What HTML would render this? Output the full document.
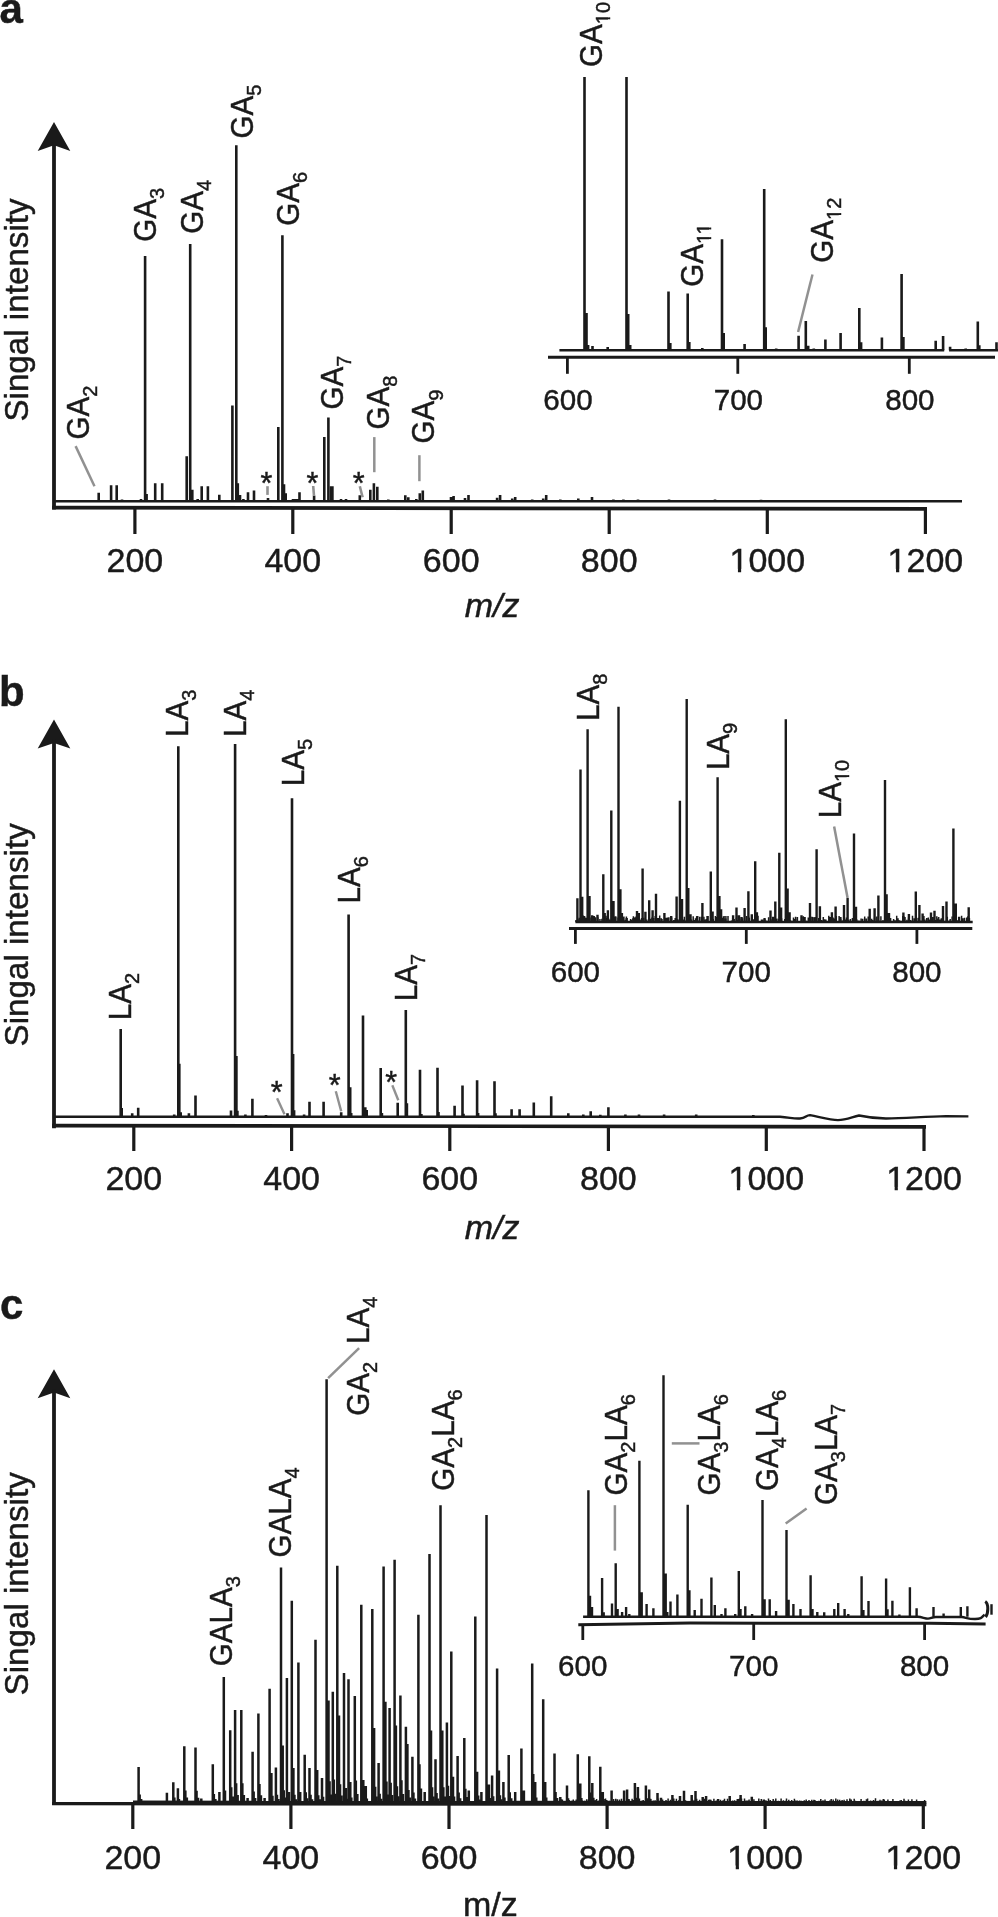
<!DOCTYPE html>
<html><head><meta charset="utf-8"><style>
html,body{margin:0;padding:0;background:#fff;}
body{width:998px;height:1917px;overflow:hidden;}
svg{display:block;filter:grayscale(1);}
text{font-family:"Liberation Sans",sans-serif;fill:#1a1a1a;stroke:#1a1a1a;stroke-width:0.45px;}
</style></head><body>
<svg width="998" height="1917" viewBox="0 0 998 1917">
<rect width="998" height="1917" fill="#fff"/>
<text x="-0.5" y="22.7" font-size="42.0" text-anchor="start" font-weight="bold">a</text>
<path d="M54.0 121.9L70.3 150.9L54.0 145.3L37.7 150.9Z" fill="#1a1a1a"/>
<line x1="54.0" y1="141.9" x2="54.0" y2="509.5" stroke="#1a1a1a" stroke-width="3.80"/>
<path d="M52.1 507.6L926.6 508.9" stroke="#1a1a1a" stroke-width="3.7" fill="none"/>
<line x1="134.9" y1="507.0" x2="134.9" y2="534.0" stroke="#1a1a1a" stroke-width="3.20"/>
<text x="134.9" y="571.8" font-size="34.0" text-anchor="middle" >200</text>
<line x1="292.8" y1="507.0" x2="292.8" y2="534.0" stroke="#1a1a1a" stroke-width="3.20"/>
<text x="292.8" y="571.8" font-size="34.0" text-anchor="middle" >400</text>
<line x1="451.2" y1="507.0" x2="451.2" y2="534.0" stroke="#1a1a1a" stroke-width="3.20"/>
<text x="451.2" y="571.8" font-size="34.0" text-anchor="middle" >600</text>
<line x1="609.2" y1="507.0" x2="609.2" y2="534.0" stroke="#1a1a1a" stroke-width="3.20"/>
<text x="609.2" y="571.8" font-size="34.0" text-anchor="middle" >800</text>
<line x1="767.3" y1="507.0" x2="767.3" y2="534.0" stroke="#1a1a1a" stroke-width="3.20"/>
<text x="767.3" y="571.8" font-size="34.0" text-anchor="middle" >1000</text>
<rect x="730.87" y="568.91" width="7.06" height="4.49" fill="#fff"/>
<rect x="741.14" y="568.91" width="6.79" height="4.49" fill="#fff"/>
<line x1="925.4" y1="507.0" x2="925.4" y2="534.0" stroke="#1a1a1a" stroke-width="3.20"/>
<text x="925.4" y="571.8" font-size="34.0" text-anchor="middle" >1200</text>
<rect x="888.97" y="568.91" width="7.06" height="4.49" fill="#fff"/>
<rect x="899.24" y="568.91" width="6.79" height="4.49" fill="#fff"/>
<text x="492.2" y="617.0" font-size="34.0" text-anchor="middle" font-style="italic">m/z</text>
<text transform="translate(27.6 421.6) rotate(-90)" font-size="33.2">Singal intensity</text>
<line x1="54.0" y1="501.2" x2="962.0" y2="501.2" stroke="#1a1a1a" stroke-width="2.40"/>
<path d="M98.7 501.2V492.8M111.1 501.2V485.2M116.7 501.2V485.2M122.0 501.2V499.5M141.0 501.2V499.0M145.1 501.2V256.0M146.6 501.2V494.0M155.2 501.2V483.2M162.2 501.2V483.2M186.7 501.2V456.2M190.2 501.2V244.0M192.3 501.2V489.8M197.7 501.2V499.0M201.7 501.2V486.2M207.9 501.2V486.2M219.3 501.2V494.8M232.4 501.2V405.6M236.3 501.2V145.2M237.8 501.2V483.2M240.0 501.2V495.0M243.4 501.2V499.0M248.0 501.2V492.2M254.0 501.2V490.6M268.0 501.2V498.0M278.3 501.2V427.1M282.4 501.2V235.3M284.0 501.2V484.2M285.7 501.2V493.2M293.0 501.2V499.0M295.0 501.2V499.0M297.0 501.2V499.0M299.5 501.2V492.2M314.1 501.2V495.8M324.3 501.2V437.1M328.4 501.2V417.5M331.2 501.2V486.2M332.4 501.2V486.2M341.0 501.2V499.0M346.0 501.2V499.0M359.8 501.2V495.2M370.3 501.2V489.8M373.9 501.2V483.2M377.3 501.2V486.8M388.3 501.2V499.5M405.3 501.2V495.2M408.3 501.2V497.2M416.3 501.2V499.0M419.8 501.2V493.2M422.8 501.2V490.6M451.0 501.2V497.1M453.6 501.2V496.1M465.0 501.2V498.0M468.5 501.2V495.1M497.1 501.2V497.7M500.1 501.2V495.1M512.2 501.2V498.5M515.2 501.2V497.1M532.2 501.2V499.5M543.2 501.2V498.5M546.2 501.2V495.1M560.3 501.2V499.5M578.3 501.2V498.5M592.0 501.2V497.1M613.4 501.2V499.5M623.4 501.2V499.5M638.0 501.2V499.5M669.0 501.2V499.5M715.0 501.2V499.5M761.0 501.2V499.8" stroke="#1a1a1a" stroke-width="2.60" fill="none"/>
<text transform="translate(88.7 439.4) rotate(-90) scale(1 1.040)" font-size="29.6">GA<tspan font-size="20.0" dy="7.8">2</tspan></text>
<text transform="translate(155.7 241.8) rotate(-90) scale(1 1.040)" font-size="29.6">GA<tspan font-size="20.0" dy="7.8">3</tspan></text>
<text transform="translate(202.9 233.8) rotate(-90) scale(1 1.040)" font-size="29.6">GA<tspan font-size="20.0" dy="7.8">4</tspan></text>
<text transform="translate(252.6 138.6) rotate(-90) scale(1 1.040)" font-size="29.6">GA<tspan font-size="20.0" dy="7.8">5</tspan></text>
<text transform="translate(299.1 225.8) rotate(-90) scale(1 1.040)" font-size="29.6">GA<tspan font-size="20.0" dy="7.8">6</tspan></text>
<text transform="translate(343.3 409.6) rotate(-90) scale(1 1.040)" font-size="29.6">GA<tspan font-size="20.0" dy="7.8">7</tspan></text>
<text transform="translate(389.2 429.6) rotate(-90) scale(1 1.040)" font-size="29.6">GA<tspan font-size="20.0" dy="7.8">8</tspan></text>
<text transform="translate(434.4 443.6) rotate(-90) scale(1 1.040)" font-size="29.6">GA<tspan font-size="20.0" dy="7.8">9</tspan></text>
<line x1="75.6" y1="446.1" x2="94.5" y2="486.2" stroke="#919191" stroke-width="2.50"/>
<line x1="374.3" y1="437.1" x2="374.3" y2="472.2" stroke="#919191" stroke-width="2.50"/>
<line x1="419.4" y1="455.2" x2="419.4" y2="481.2" stroke="#919191" stroke-width="2.50"/>
<line x1="267.5" y1="486.2" x2="267.5" y2="494.9" stroke="#919191" stroke-width="2.60"/>
<line x1="313.2" y1="486.0" x2="314.0" y2="496.0" stroke="#919191" stroke-width="2.60"/>
<line x1="359.8" y1="486.2" x2="362.6" y2="497.2" stroke="#919191" stroke-width="2.60"/>
<text x="266.5" y="494.0" font-size="30.5" text-anchor="middle" >*</text>
<text x="312.5" y="494.0" font-size="30.5" text-anchor="middle" >*</text>
<text x="358.6" y="494.0" font-size="30.5" text-anchor="middle" >*</text>
<line x1="548.0" y1="357.2" x2="995.0" y2="357.2" stroke="#1a1a1a" stroke-width="3.00"/>
<line x1="567.4" y1="357.0" x2="567.4" y2="373.8" stroke="#1a1a1a" stroke-width="2.80"/>
<text x="568.0" y="409.7" font-size="29.6" text-anchor="middle" >600</text>
<line x1="737.8" y1="357.0" x2="737.8" y2="373.8" stroke="#1a1a1a" stroke-width="2.80"/>
<text x="738.4" y="409.7" font-size="29.6" text-anchor="middle" >700</text>
<line x1="909.3" y1="357.0" x2="909.3" y2="373.8" stroke="#1a1a1a" stroke-width="2.80"/>
<text x="909.9" y="409.7" font-size="29.6" text-anchor="middle" >800</text>
<line x1="559.4" y1="350.2" x2="944.2" y2="350.2" stroke="#1a1a1a" stroke-width="2.40"/>
<line x1="949.1" y1="350.2" x2="998.0" y2="350.2" stroke="#1a1a1a" stroke-width="2.40"/>
<path d="M584.5 350.2V77.0M586.5 350.2V313.1M588.1 350.2V345.1M592.5 350.2V346.1M607.7 350.2V347.1M626.5 350.2V77.0M628.2 350.2V314.1M630.2 350.2V345.1M668.5 350.2V291.6M670.3 350.2V343.1M687.7 350.2V293.6M689.3 350.2V342.1M702.3 350.2V348.1M722.0 350.2V239.2M723.7 350.2V333.0M744.6 350.2V344.1M764.2 350.2V189.1M765.7 350.2V327.3M776.2 350.2V348.5M798.6 350.2V335.8M805.8 350.2V320.9M808.2 350.2V345.7M813.8 350.2V348.5M825.4 350.2V339.6M840.6 350.2V332.9M859.3 350.2V307.9M861.1 350.2V342.3M881.9 350.2V337.4M901.6 350.2V274.1M903.4 350.2V337.1M935.7 350.2V340.8M943.1 350.2V336.1M950.1 350.2V346.8M965.7 350.2V348.5M977.8 350.2V321.6M979.3 350.2V345.3M996.5 350.2V342.3" stroke="#1a1a1a" stroke-width="2.60" fill="none"/>
<text transform="translate(601.8 67.0) rotate(-90) scale(1 1.040)" font-size="29.6">GA<tspan font-size="20.0" dy="7.8">10</tspan></text>
<g transform="translate(601.8 67.0) rotate(-90) scale(1 1.040)"><rect x="43.39" y="5.96" width="4.31" height="3.44" fill="#fff"/><rect x="49.66" y="5.96" width="3.75" height="3.44" fill="#fff"/></g>
<text transform="translate(702.8 286.8) rotate(-90) scale(1 1.040)" font-size="29.6">GA<tspan font-size="20.0" dy="7.8">11</tspan></text>
<g transform="translate(702.8 286.8) rotate(-90) scale(1 1.040)"><rect x="43.39" y="5.96" width="4.31" height="3.44" fill="#fff"/><rect x="49.66" y="5.96" width="3.75" height="3.44" fill="#fff"/><rect x="53.03" y="5.96" width="4.31" height="3.44" fill="#fff"/><rect x="59.30" y="5.96" width="3.75" height="3.44" fill="#fff"/></g>
<text transform="translate(832.5 262.7) rotate(-90) scale(1 1.040)" font-size="29.6">GA<tspan font-size="20.0" dy="7.8">12</tspan></text>
<g transform="translate(832.5 262.7) rotate(-90) scale(1 1.040)"><rect x="43.39" y="5.96" width="4.31" height="3.44" fill="#fff"/><rect x="49.66" y="5.96" width="3.75" height="3.44" fill="#fff"/></g>
<line x1="812.5" y1="274.5" x2="798.1" y2="332.0" stroke="#919191" stroke-width="2.50"/>
<text x="-0.9" y="705.5" font-size="42.0" text-anchor="start" font-weight="bold">b</text>
<path d="M54.0 719.6L70.3 748.6L54.0 743.0L37.7 748.6Z" fill="#1a1a1a"/>
<line x1="54.0" y1="739.6" x2="54.0" y2="1128.3" stroke="#1a1a1a" stroke-width="3.80"/>
<path d="M52.1 1125.6L926 1126.9" stroke="#1a1a1a" stroke-width="3.6" fill="none"/>
<line x1="133.8" y1="1125.0" x2="133.8" y2="1151.0" stroke="#1a1a1a" stroke-width="3.20"/>
<text x="133.8" y="1189.8" font-size="34.0" text-anchor="middle" >200</text>
<line x1="291.6" y1="1125.0" x2="291.6" y2="1151.0" stroke="#1a1a1a" stroke-width="3.20"/>
<text x="291.6" y="1189.8" font-size="34.0" text-anchor="middle" >400</text>
<line x1="449.8" y1="1125.0" x2="449.8" y2="1151.0" stroke="#1a1a1a" stroke-width="3.20"/>
<text x="449.8" y="1189.8" font-size="34.0" text-anchor="middle" >600</text>
<line x1="608.4" y1="1125.0" x2="608.4" y2="1151.0" stroke="#1a1a1a" stroke-width="3.20"/>
<text x="608.4" y="1189.8" font-size="34.0" text-anchor="middle" >800</text>
<line x1="766.3" y1="1125.0" x2="766.3" y2="1151.0" stroke="#1a1a1a" stroke-width="3.20"/>
<text x="766.3" y="1189.8" font-size="34.0" text-anchor="middle" >1000</text>
<rect x="729.87" y="1186.91" width="7.06" height="4.49" fill="#fff"/>
<rect x="740.14" y="1186.91" width="6.79" height="4.49" fill="#fff"/>
<line x1="924.0" y1="1125.0" x2="924.0" y2="1151.0" stroke="#1a1a1a" stroke-width="3.20"/>
<text x="924.0" y="1189.8" font-size="34.0" text-anchor="middle" >1200</text>
<rect x="887.57" y="1186.91" width="7.06" height="4.49" fill="#fff"/>
<rect x="897.84" y="1186.91" width="6.79" height="4.49" fill="#fff"/>
<text x="492.2" y="1239.0" font-size="34.0" text-anchor="middle" font-style="italic">m/z</text>
<text transform="translate(27.6 1046.5) rotate(-90)" font-size="33.2">Singal intensity</text>
<path d="M54 1116.8H780C790 1117.5 794 1119 800 1118.5S806 1115 810 1115.1C820 1117 830 1120.1 838 1120.1S852 1117 859 1115.5C866 1117 875 1118.5 886 1118.5C905 1118.3 925 1116.5 946 1116.1L968.4 1116.4" stroke="#1a1a1a" stroke-width="2.4" fill="none"/>
<path d="M122.1 1116.8V1108.0M237.8 1116.8V1110.7M438.9 1116.8V1111.9M463.9 1116.8V1113.7M478.5 1116.8V1113.1M495.9 1116.8V1113.2" stroke="#1a1a1a" stroke-width="1.80" fill="none"/>
<path d="M120.7 1116.8V1029.1M132.2 1116.8V1113.2M138.2 1116.8V1107.8M174.2 1116.8V1114.5M178.3 1116.8V746.3M179.3 1116.8V1063.7M180.7 1116.8V1112.2M188.9 1116.8V1113.2M195.5 1116.8V1095.6M231.0 1116.8V1110.6M235.1 1116.8V744.0M236.4 1116.8V1056.1M245.4 1116.8V1114.5M252.4 1116.8V1098.8M266.0 1116.8V1115.0M287.5 1116.8V1113.2M292.0 1116.8V798.3M293.1 1116.8V1054.1M294.1 1116.8V1110.2M304.1 1116.8V1114.5M309.5 1116.8V1101.8M323.6 1116.8V1101.8M341.2 1116.8V1112.2M348.6 1116.8V914.6M350.2 1116.8V1087.2M351.2 1116.8V1113.0M363.0 1116.8V1015.5M365.3 1116.8V1107.2M366.7 1116.8V1110.0M380.7 1116.8V1068.1M381.9 1116.8V1113.0M397.7 1116.8V1102.8M405.8 1116.8V1010.1M406.9 1116.8V1103.2M420.0 1116.8V1069.7M421.4 1116.8V1114.0M437.5 1116.8V1067.7M454.6 1116.8V1105.8M462.5 1116.8V1085.6M477.1 1116.8V1080.2M494.5 1116.8V1081.2M511.6 1116.8V1109.2M519.6 1116.8V1109.2M533.8 1116.8V1102.6M551.2 1116.8V1096.2M568.3 1116.8V1113.2M583.3 1116.8V1114.5M590.7 1116.8V1111.2M600.3 1116.8V1114.8M608.4 1116.8V1107.2M625.4 1116.8V1114.5M639.0 1116.8V1114.5M664.1 1116.8V1114.5M696.2 1116.8V1114.5M753.3 1116.8V1115.0" stroke="#1a1a1a" stroke-width="2.60" fill="none"/>
<text transform="translate(130.9 1020.2) rotate(-90) scale(1 1.040)" font-size="29.6">LA<tspan font-size="20.0" dy="7.8">2</tspan></text>
<text transform="translate(187.7 736.9) rotate(-90) scale(1 1.040)" font-size="29.6">LA<tspan font-size="20.0" dy="7.8">3</tspan></text>
<text transform="translate(245.8 736.9) rotate(-90) scale(1 1.040)" font-size="29.6">LA<tspan font-size="20.0" dy="7.8">4</tspan></text>
<text transform="translate(303.9 786.2) rotate(-90) scale(1 1.040)" font-size="29.6">LA<tspan font-size="20.0" dy="7.8">5</tspan></text>
<text transform="translate(359.8 903.5) rotate(-90) scale(1 1.040)" font-size="29.6">LA<tspan font-size="20.0" dy="7.8">6</tspan></text>
<text transform="translate(416.6 1001.2) rotate(-90) scale(1 1.040)" font-size="29.6">LA<tspan font-size="20.0" dy="7.8">7</tspan></text>
<text x="276.6" y="1103.2" font-size="30.5" text-anchor="middle" >*</text>
<text x="334.7" y="1096.2" font-size="30.5" text-anchor="middle" >*</text>
<text x="391.3" y="1093.1" font-size="30.5" text-anchor="middle" >*</text>
<line x1="277.1" y1="1098.2" x2="284.5" y2="1114.2" stroke="#919191" stroke-width="2.40"/>
<line x1="335.8" y1="1091.2" x2="341.2" y2="1111.2" stroke="#919191" stroke-width="2.40"/>
<line x1="392.3" y1="1085.2" x2="398.3" y2="1100.2" stroke="#919191" stroke-width="2.40"/>
<line x1="569.0" y1="928.6" x2="972.3" y2="928.6" stroke="#1a1a1a" stroke-width="3.00"/>
<line x1="575.4" y1="928.0" x2="575.4" y2="943.9" stroke="#1a1a1a" stroke-width="2.80"/>
<text x="575.4" y="981.7" font-size="29.6" text-anchor="middle" >600</text>
<line x1="746.3" y1="928.0" x2="746.3" y2="943.9" stroke="#1a1a1a" stroke-width="2.80"/>
<text x="746.3" y="981.7" font-size="29.6" text-anchor="middle" >700</text>
<line x1="916.9" y1="928.0" x2="916.9" y2="943.9" stroke="#1a1a1a" stroke-width="2.80"/>
<text x="916.9" y="981.7" font-size="29.6" text-anchor="middle" >800</text>
<line x1="575.4" y1="922.0" x2="972.7" y2="922.0" stroke="#1a1a1a" stroke-width="2.60"/>
<path d="M576.0 922.0V920.1M577.6 922.0V919.3M579.2 922.0V917.7M580.1 922.0V921.4M582.1 922.0V919.9M583.2 922.0V915.5M584.6 922.0V916.5M586.1 922.0V917.7M587.1 922.0V917.7M589.1 922.0V918.4M591.0 922.0V917.5M591.8 922.0V917.0M593.5 922.0V919.7M594.3 922.0V916.3M595.7 922.0V917.2M597.8 922.0V917.2M599.9 922.0V919.1M601.9 922.0V918.8M604.0 922.0V916.2M604.9 922.0V920.7M606.0 922.0V915.7M607.4 922.0V917.7M608.6 922.0V918.5M609.9 922.0V919.4M611.6 922.0V918.0M613.7 922.0V917.4M615.8 922.0V916.4M618.1 922.0V917.5M619.0 922.0V916.3M621.2 922.0V916.1M622.8 922.0V917.2M623.9 922.0V916.5M625.5 922.0V919.8M626.4 922.0V916.4M628.6 922.0V921.0M630.6 922.0V919.0M631.5 922.0V919.7M633.4 922.0V916.3M634.2 922.0V917.8M635.1 922.0V917.2M636.3 922.0V916.2M638.5 922.0V918.5M640.8 922.0V919.6M641.6 922.0V917.9M642.4 922.0V920.3M643.8 922.0V917.8M644.8 922.0V921.2M646.8 922.0V919.6M649.0 922.0V916.1M650.3 922.0V918.7M651.9 922.0V917.6M653.5 922.0V918.1M655.2 922.0V915.9M656.7 922.0V918.9M658.5 922.0V920.1M659.7 922.0V915.6M661.3 922.0V918.2M662.0 922.0V919.0M663.7 922.0V921.4M665.3 922.0V917.7M666.2 922.0V917.7M667.6 922.0V917.4M668.9 922.0V917.3M670.8 922.0V921.4M671.6 922.0V917.4M673.8 922.0V920.0M675.2 922.0V917.9M676.5 922.0V919.3M677.7 922.0V919.3M679.3 922.0V919.7M680.6 922.0V916.9M681.4 922.0V918.1M683.3 922.0V919.6M684.4 922.0V916.7M685.5 922.0V920.4M686.9 922.0V917.3M687.8 922.0V919.6M689.0 922.0V916.5M690.4 922.0V916.4M691.4 922.0V919.5M693.2 922.0V916.2M694.6 922.0V920.1M695.5 922.0V918.3M696.6 922.0V916.7M698.6 922.0V920.4M699.7 922.0V916.7M701.5 922.0V916.7M702.7 922.0V920.7M703.9 922.0V916.7M705.1 922.0V919.4M706.4 922.0V919.0M707.8 922.0V916.0M708.8 922.0V921.5M711.0 922.0V916.2M713.2 922.0V918.9M715.4 922.0V915.9M716.4 922.0V917.0M718.4 922.0V917.5M720.0 922.0V919.8M721.2 922.0V920.1M722.1 922.0V918.0M723.3 922.0V916.6M724.1 922.0V916.1M725.9 922.0V916.0M728.0 922.0V916.1M729.6 922.0V921.4M731.5 922.0V920.5M732.7 922.0V917.5M734.2 922.0V919.0M736.4 922.0V917.8M737.6 922.0V920.0M739.7 922.0V918.6M741.6 922.0V919.4M742.6 922.0V918.3M744.6 922.0V920.5M746.5 922.0V916.0M748.5 922.0V916.6M749.3 922.0V917.7M751.3 922.0V921.2M752.5 922.0V919.9M754.0 922.0V919.0M755.5 922.0V916.8M756.2 922.0V921.2M757.2 922.0V920.8M758.0 922.0V915.7M760.0 922.0V921.0M761.5 922.0V919.6M762.8 922.0V919.4M764.5 922.0V918.0M765.8 922.0V920.4M767.0 922.0V920.8M768.6 922.0V917.2M769.9 922.0V921.0M770.9 922.0V919.3M772.6 922.0V916.8M773.9 922.0V916.7M775.6 922.0V918.9M776.9 922.0V918.5M778.7 922.0V919.0M780.5 922.0V918.7M781.6 922.0V918.3M783.4 922.0V921.1M784.8 922.0V918.9M786.9 922.0V915.9M788.2 922.0V916.1M790.1 922.0V919.9M791.6 922.0V920.8M793.5 922.0V917.5M795.6 922.0V916.7M797.4 922.0V917.1M799.0 922.0V920.9M800.6 922.0V921.5M801.6 922.0V916.9M802.4 922.0V920.9M803.3 922.0V916.2M804.3 922.0V921.4M806.3 922.0V920.8M808.3 922.0V917.5M810.3 922.0V915.8M811.9 922.0V916.7M812.7 922.0V916.9M814.3 922.0V917.2M815.2 922.0V917.0M817.3 922.0V921.1M818.6 922.0V918.1M820.6 922.0V920.0M821.6 922.0V920.0M823.3 922.0V917.0M824.6 922.0V919.3M825.9 922.0V919.4M827.3 922.0V921.0M828.8 922.0V915.7M830.2 922.0V917.0M831.2 922.0V917.4M833.1 922.0V917.5M834.6 922.0V918.6M836.3 922.0V916.1M837.3 922.0V920.9M839.1 922.0V916.0M840.7 922.0V918.8M842.5 922.0V920.4M843.6 922.0V920.3M845.3 922.0V919.6M846.4 922.0V917.4M848.6 922.0V919.7M850.4 922.0V919.0M852.4 922.0V918.0M853.5 922.0V920.2M854.3 922.0V918.6M855.7 922.0V920.5M856.9 922.0V919.6M858.9 922.0V920.6M861.1 922.0V918.6M862.7 922.0V918.7M864.7 922.0V916.6M866.3 922.0V918.6M868.2 922.0V916.4M869.5 922.0V917.1M871.7 922.0V918.7M872.8 922.0V920.1M874.6 922.0V917.4M876.8 922.0V916.4M877.9 922.0V920.4M879.1 922.0V920.4M880.9 922.0V916.3M883.0 922.0V920.0M885.0 922.0V919.6M886.4 922.0V917.1M887.3 922.0V920.9M889.3 922.0V919.7M890.6 922.0V918.0M892.3 922.0V921.5M893.6 922.0V918.9M895.1 922.0V920.2M896.7 922.0V915.8M898.0 922.0V918.2M899.0 922.0V919.9M900.7 922.0V920.8M902.8 922.0V916.0M903.7 922.0V915.9M905.0 922.0V916.9M906.9 922.0V919.7M908.6 922.0V917.6M910.6 922.0V919.9M912.5 922.0V915.7M914.2 922.0V918.3M915.2 922.0V918.5M916.4 922.0V917.2M918.2 922.0V918.1M919.2 922.0V917.6M920.9 922.0V920.4M923.0 922.0V917.6M923.9 922.0V915.9M924.9 922.0V919.5M926.7 922.0V917.9M928.3 922.0V917.6M929.8 922.0V919.6M930.8 922.0V921.1M932.6 922.0V917.0M934.2 922.0V917.1M935.4 922.0V919.9M936.8 922.0V916.3M937.6 922.0V918.5M938.7 922.0V916.9M940.0 922.0V919.5M941.3 922.0V918.3M943.2 922.0V919.4M945.3 922.0V920.8M946.4 922.0V920.9M947.3 922.0V916.8M949.2 922.0V920.4M950.2 922.0V919.0M952.1 922.0V916.6M954.0 922.0V917.9M954.9 922.0V919.1M956.0 922.0V918.3M957.6 922.0V920.3M958.7 922.0V916.8M959.5 922.0V916.7M961.6 922.0V915.8M962.9 922.0V918.2M964.5 922.0V917.7M966.7 922.0V917.4M967.9 922.0V916.3M969.4 922.0V917.9M971.3 922.0V921.5" stroke="#1a1a1a" stroke-width="1.50" fill="none"/>
<path d="M577.4 922.0V898.2M580.5 922.0V769.5M582.2 922.0V896.7M584.0 922.0V915.9M587.6 922.0V729.3M589.5 922.0V896.1M592.2 922.0V915.3M593.7 922.0V916.0M597.5 922.0V914.7M603.3 922.0V874.2M604.7 922.0V912.9M607.9 922.0V910.3M611.3 922.0V810.4M613.5 922.0V901.1M615.1 922.0V916.5M618.5 922.0V706.8M620.4 922.0V889.2M621.9 922.0V912.9M626.7 922.0V918.0M633.3 922.0V918.3M637.0 922.0V911.1M638.8 922.0V913.0M642.6 922.0V868.4M645.4 922.0V911.7M649.2 922.0V900.3M652.6 922.0V910.3M656.0 922.0V893.7M658.0 922.0V918.0M664.4 922.0V912.9M666.4 922.0V918.0M671.2 922.0V915.9M676.6 922.0V896.5M679.9 922.0V800.8M682.0 922.0V899.0M686.7 922.0V699.0M688.3 922.0V887.9M690.5 922.0V914.3M697.3 922.0V916.0M702.4 922.0V902.9M707.5 922.0V916.0M710.8 922.0V871.5M712.6 922.0V911.4M717.6 922.0V777.2M719.4 922.0V896.1M721.1 922.0V909.2M725.4 922.0V918.5M733.1 922.0V915.2M736.5 922.0V907.5M739.0 922.0V915.2M741.6 922.0V917.0M744.6 922.0V908.0M748.4 922.0V891.3M751.8 922.0V914.3M755.2 922.0V861.3M756.9 922.0V912.3M764.6 922.0V918.2M770.5 922.0V910.6M775.3 922.0V901.5M779.3 922.0V852.8M781.1 922.0V907.5M785.8 922.0V719.3M787.6 922.0V888.4M789.6 922.0V912.3M795.2 922.0V919.0M801.5 922.0V915.2M804.6 922.0V917.0M810.0 922.0V902.9M816.6 922.0V849.2M819.9 922.0V906.3M831.9 922.0V912.3M835.6 922.0V906.6M840.4 922.0V917.0M844.0 922.0V905.0M847.6 922.0V897.9M854.0 922.0V833.4M856.0 922.0V906.7M869.7 922.0V908.8M874.6 922.0V908.3M878.4 922.0V895.5M885.0 922.0V780.0M886.6 922.0V894.3M889.0 922.0V913.0M903.4 922.0V912.6M908.9 922.0V914.0M915.8 922.0V891.5M919.4 922.0V905.1M922.6 922.0V913.5M931.0 922.0V912.6M934.5 922.0V910.7M943.0 922.0V905.9M946.5 922.0V901.4M953.4 922.0V828.6M955.8 922.0V903.5M968.7 922.0V907.2" stroke="#1a1a1a" stroke-width="2.40" fill="none"/>
<text transform="translate(599.3 720.9) rotate(-90) scale(1 1.040)" font-size="29.6">LA<tspan font-size="20.0" dy="7.8">8</tspan></text>
<text transform="translate(728.5 770.1) rotate(-90) scale(1 1.040)" font-size="29.6">LA<tspan font-size="20.0" dy="7.8">9</tspan></text>
<text transform="translate(840.5 818.2) rotate(-90) scale(1 1.040)" font-size="29.6">LA<tspan font-size="20.0" dy="7.8">10</tspan></text>
<g transform="translate(840.5 818.2) rotate(-90) scale(1 1.040)"><rect x="36.83" y="5.96" width="4.31" height="3.44" fill="#fff"/><rect x="43.10" y="5.96" width="3.75" height="3.44" fill="#fff"/></g>
<line x1="834.1" y1="826.6" x2="847.6" y2="897.9" stroke="#919191" stroke-width="2.50"/>
<text x="-0.1" y="1318.5" font-size="42.0" text-anchor="start" font-weight="bold">c</text>
<path d="M54.0 1369.2L70.3 1398.2L54.0 1392.6L37.7 1398.2Z" fill="#1a1a1a"/>
<line x1="54.0" y1="1389.2" x2="54.0" y2="1805.0" stroke="#1a1a1a" stroke-width="3.80"/>
<path d="M52.1 1803.6L926.4 1804.5" stroke="#1a1a1a" stroke-width="3.4" fill="none"/>
<path d="M133 1801.8L926.4 1802.3" stroke="#1a1a1a" stroke-width="2.4" fill="none"/>
<line x1="132.8" y1="1803.0" x2="132.8" y2="1829.0" stroke="#1a1a1a" stroke-width="3.20"/>
<text x="132.8" y="1868.5" font-size="34.0" text-anchor="middle" >200</text>
<line x1="290.9" y1="1803.0" x2="290.9" y2="1829.0" stroke="#1a1a1a" stroke-width="3.20"/>
<text x="290.9" y="1868.5" font-size="34.0" text-anchor="middle" >400</text>
<line x1="449.0" y1="1803.0" x2="449.0" y2="1829.0" stroke="#1a1a1a" stroke-width="3.20"/>
<text x="449.0" y="1868.5" font-size="34.0" text-anchor="middle" >600</text>
<line x1="607.1" y1="1803.0" x2="607.1" y2="1829.0" stroke="#1a1a1a" stroke-width="3.20"/>
<text x="607.1" y="1868.5" font-size="34.0" text-anchor="middle" >800</text>
<line x1="765.1" y1="1803.0" x2="765.1" y2="1829.0" stroke="#1a1a1a" stroke-width="3.20"/>
<text x="765.1" y="1868.5" font-size="34.0" text-anchor="middle" >1000</text>
<rect x="728.67" y="1865.61" width="7.06" height="4.49" fill="#fff"/>
<rect x="738.94" y="1865.61" width="6.79" height="4.49" fill="#fff"/>
<line x1="923.3" y1="1803.0" x2="923.3" y2="1829.0" stroke="#1a1a1a" stroke-width="3.20"/>
<text x="923.3" y="1868.5" font-size="34.0" text-anchor="middle" >1200</text>
<rect x="886.87" y="1865.61" width="7.06" height="4.49" fill="#fff"/>
<rect x="897.14" y="1865.61" width="6.79" height="4.49" fill="#fff"/>
<text x="462.9" y="1916.4" font-size="34.0" text-anchor="start" >m/z</text>
<text transform="translate(27.6 1695.5) rotate(-90)" font-size="33.2">Singal intensity</text>
<path d="M560.0 1801.5V1800.3M561.3 1801.5V1799.3M562.4 1801.5V1799.6M564.2 1801.5V1801.0M566.2 1801.5V1801.1M568.1 1801.5V1801.0M569.2 1801.5V1800.0M571.9 1801.5V1800.8M573.3 1801.5V1799.4M576.2 1801.5V1799.5M578.0 1801.5V1798.4M579.1 1801.5V1798.7M580.7 1801.5V1800.8M581.9 1801.5V1800.3M584.6 1801.5V1800.7M586.7 1801.5V1799.3M588.5 1801.5V1799.6M589.6 1801.5V1801.0M591.0 1801.5V1799.2M592.9 1801.5V1800.3M595.0 1801.5V1799.9M596.6 1801.5V1798.9M599.0 1801.5V1800.5M601.2 1801.5V1799.7M603.9 1801.5V1799.1M605.5 1801.5V1798.4M606.8 1801.5V1800.0M609.3 1801.5V1800.8M611.2 1801.5V1801.1M613.6 1801.5V1799.0M615.7 1801.5V1798.7M617.4 1801.5V1799.2M619.5 1801.5V1799.5M621.5 1801.5V1798.8M624.3 1801.5V1799.8M626.7 1801.5V1801.0M629.1 1801.5V1799.3M632.1 1801.5V1798.8M633.6 1801.5V1800.1M636.0 1801.5V1801.1M637.9 1801.5V1800.7M639.1 1801.5V1801.0M641.7 1801.5V1800.8M643.2 1801.5V1800.1M645.9 1801.5V1801.0M647.8 1801.5V1799.6M650.6 1801.5V1798.8M653.3 1801.5V1800.4M655.1 1801.5V1800.2M657.9 1801.5V1798.4M659.2 1801.5V1800.7M660.7 1801.5V1800.5M662.6 1801.5V1799.5M664.2 1801.5V1801.2M666.0 1801.5V1800.1M668.1 1801.5V1798.4M670.5 1801.5V1799.7M672.7 1801.5V1799.2M673.8 1801.5V1798.6M676.4 1801.5V1798.7M679.0 1801.5V1800.1M680.8 1801.5V1800.9M683.1 1801.5V1801.0M684.2 1801.5V1800.6M685.5 1801.5V1800.2M686.6 1801.5V1801.2M687.9 1801.5V1800.9M689.7 1801.5V1801.1M692.4 1801.5V1799.4M693.7 1801.5V1800.5M695.4 1801.5V1800.1M696.7 1801.5V1798.7M699.6 1801.5V1799.8M701.6 1801.5V1801.0M702.8 1801.5V1800.2M704.3 1801.5V1798.8M705.7 1801.5V1801.1M708.6 1801.5V1799.7M709.9 1801.5V1799.6M710.9 1801.5V1799.7M713.9 1801.5V1798.7M716.3 1801.5V1800.4M718.0 1801.5V1800.7M720.5 1801.5V1799.7M723.1 1801.5V1800.2M724.5 1801.5V1798.8M727.5 1801.5V1798.7M730.1 1801.5V1798.8M732.6 1801.5V1800.5M734.6 1801.5V1800.2M735.7 1801.5V1801.1M737.3 1801.5V1800.4M739.6 1801.5V1798.4M741.5 1801.5V1798.5M744.5 1801.5V1798.4M746.2 1801.5V1800.6M747.7 1801.5V1800.6M749.1 1801.5V1799.4M751.9 1801.5V1798.8M753.9 1801.5V1799.3M756.5 1801.5V1801.0M758.8 1801.5V1798.6M761.3 1801.5V1799.0M763.3 1801.5V1800.7M765.9 1801.5V1800.2M768.5 1801.5V1798.4M770.3 1801.5V1800.0M773.2 1801.5V1799.1M774.5 1801.5V1800.8M775.8 1801.5V1798.6M778.4 1801.5V1800.8M781.1 1801.5V1798.4M783.4 1801.5V1800.2M785.5 1801.5V1800.8M786.5 1801.5V1798.4M788.8 1801.5V1799.7M791.7 1801.5V1799.9M794.4 1801.5V1798.8M795.8 1801.5V1800.5M797.4 1801.5V1800.5M799.6 1801.5V1800.4M801.4 1801.5V1800.8M804.3 1801.5V1800.2M806.2 1801.5V1799.5M809.0 1801.5V1800.0M811.8 1801.5V1799.7M813.9 1801.5V1799.7M814.9 1801.5V1799.9M816.3 1801.5V1801.2M818.9 1801.5V1800.7M820.8 1801.5V1799.1M823.0 1801.5V1800.3M825.0 1801.5V1799.6M827.6 1801.5V1800.9M829.7 1801.5V1800.5M831.2 1801.5V1799.0M833.2 1801.5V1799.6M835.8 1801.5V1798.6M837.7 1801.5V1799.4M839.7 1801.5V1799.7M842.1 1801.5V1799.9M844.1 1801.5V1799.8M847.0 1801.5V1799.2M849.8 1801.5V1798.5M851.3 1801.5V1799.6M854.2 1801.5V1798.8M855.4 1801.5V1800.8M857.3 1801.5V1801.0M858.8 1801.5V1801.0M861.1 1801.5V1798.9M863.9 1801.5V1800.8M866.4 1801.5V1799.3M867.6 1801.5V1798.6M870.6 1801.5V1800.6M873.5 1801.5V1800.0M875.5 1801.5V1798.3M878.1 1801.5V1800.7M880.0 1801.5V1799.7M881.7 1801.5V1800.6M883.3 1801.5V1799.1M884.3 1801.5V1799.6M886.2 1801.5V1801.1M887.9 1801.5V1799.4M889.9 1801.5V1801.0M892.9 1801.5V1798.9M895.8 1801.5V1800.9M897.4 1801.5V1801.1M899.9 1801.5V1800.4M901.2 1801.5V1800.0M904.0 1801.5V1798.8M905.5 1801.5V1800.8M908.4 1801.5V1799.5M910.8 1801.5V1800.9M911.9 1801.5V1799.2M913.7 1801.5V1801.0M916.6 1801.5V1799.4M919.2 1801.5V1801.0M921.9 1801.5V1801.0M924.6 1801.5V1799.9" stroke="#1a1a1a" stroke-width="1.50" fill="none"/>
<path d="M140.0 1801.5V1794.6M141.5 1801.5V1799.1M174.7 1801.5V1797.6M179.3 1801.5V1798.9M185.7 1801.5V1790.4M187.2 1801.5V1797.6M196.9 1801.5V1790.7M198.4 1801.5V1797.7M214.2 1801.5V1794.0M215.7 1801.5V1798.9M231.6 1801.5V1787.3M233.1 1801.5V1796.5M236.5 1801.5V1783.2M238.0 1801.5V1795.1M242.7 1801.5V1783.2M244.2 1801.5V1795.1M254.0 1801.5V1791.6M255.5 1801.5V1798.0M259.8 1801.5V1783.9M261.3 1801.5V1795.3M272.8 1801.5V1795.8M277.3 1801.5V1794.7M278.8 1801.5V1799.1M284.1 1801.5V1790.3M285.6 1801.5V1797.6M294.8 1801.5V1794.8M296.3 1801.5V1799.2M306.1 1801.5V1792.2M307.6 1801.5V1798.2M310.9 1801.5V1794.8M312.4 1801.5V1799.2M318.6 1801.5V1795.2M320.1 1801.5V1799.3M323.4 1801.5V1796.8M329.9 1801.5V1781.3M331.4 1801.5V1794.4M334.2 1801.5V1779.5M335.7 1801.5V1793.8M340.4 1801.5V1784.3M341.9 1801.5V1795.5M347.2 1801.5V1798.8M351.7 1801.5V1797.6M356.2 1801.5V1780.4M357.7 1801.5V1794.1M367.2 1801.5V1798.4M375.5 1801.5V1786.8M377.0 1801.5V1796.4M380.0 1801.5V1793.8M381.5 1801.5V1798.8M386.8 1801.5V1781.5M388.3 1801.5V1794.5M391.0 1801.5V1782.8M392.5 1801.5V1795.0M397.3 1801.5V1786.3M398.8 1801.5V1796.2M401.8 1801.5V1780.3M403.3 1801.5V1794.1M408.8 1801.5V1790.0M410.3 1801.5V1797.5M413.8 1801.5V1792.6M415.3 1801.5V1798.4M419.8 1801.5V1764.2M421.3 1801.5V1788.4M432.4 1801.5V1787.3M433.9 1801.5V1796.5M436.9 1801.5V1793.1M438.4 1801.5V1798.5M443.7 1801.5V1787.3M445.2 1801.5V1796.5M448.3 1801.5V1785.7M449.8 1801.5V1796.0M454.4 1801.5V1796.6M459.0 1801.5V1792.4M460.5 1801.5V1798.3M465.7 1801.5V1788.8M467.2 1801.5V1797.1M478.5 1801.5V1795.6M480.0 1801.5V1799.4M490.3 1801.5V1798.1M493.5 1801.5V1796.3M500.3 1801.5V1795.3M501.8 1801.5V1799.3M504.8 1801.5V1797.6M510.1 1801.5V1792.2M511.6 1801.5V1798.2M533.6 1801.5V1773.9M535.1 1801.5V1791.8M536.6 1801.5V1797.6M546.6 1801.5V1797.6M555.9 1801.5V1791.9M557.4 1801.5V1798.1M568.4 1801.5V1798.3M581.7 1801.5V1797.9M590.7 1801.5V1792.5M592.2 1801.5V1798.3M593.7 1801.5V1797.8M628.5 1801.5V1799.1M636.3 1801.5V1797.8M639.3 1801.5V1798.6M647.3 1801.5V1798.3M650.6 1801.5V1799.1" stroke="#1a1a1a" stroke-width="1.80" fill="none"/>
<path d="M138.6 1801.5V1767.1M166.9 1801.5V1792.7M173.3 1801.5V1782.2M177.9 1801.5V1788.3M184.3 1801.5V1746.2M195.5 1801.5V1747.6M201.3 1801.5V1798.5M212.8 1801.5V1764.2M219.4 1801.5V1792.0M223.8 1801.5V1677.0M225.0 1801.5V1790.5M230.2 1801.5V1730.3M235.1 1801.5V1710.0M241.3 1801.5V1710.0M247.6 1801.5V1798.0M252.6 1801.5V1751.8M258.4 1801.5V1713.4M264.6 1801.5V1798.0M269.6 1801.5V1688.7M271.4 1801.5V1773.1M275.9 1801.5V1767.6M281.0 1801.5V1567.6M282.7 1801.5V1745.5M286.9 1801.5V1677.9M288.9 1801.5V1792.0M291.8 1801.5V1600.8M293.4 1801.5V1768.1M298.4 1801.5V1662.4M300.2 1801.5V1792.0M304.7 1801.5V1754.8M309.5 1801.5V1768.1M315.5 1801.5V1639.8M317.2 1801.5V1770.0M322.0 1801.5V1778.1M326.6 1801.5V1379.2M328.5 1801.5V1700.4M332.8 1801.5V1691.7M337.3 1801.5V1565.7M339.0 1801.5V1715.5M344.0 1801.5V1672.9M345.8 1801.5V1788.0M348.5 1801.5V1679.2M350.3 1801.5V1782.0M354.8 1801.5V1695.9M361.3 1801.5V1604.7M363.3 1801.5V1780.0M365.8 1801.5V1786.0M372.3 1801.5V1609.0M374.1 1801.5V1728.0M378.6 1801.5V1763.1M383.6 1801.5V1566.4M385.4 1801.5V1701.7M389.6 1801.5V1708.0M394.6 1801.5V1559.7M395.9 1801.5V1725.5M400.4 1801.5V1695.4M405.9 1801.5V1726.7M407.4 1801.5V1744.0M412.4 1801.5V1756.8M418.4 1801.5V1614.8M424.7 1801.5V1792.0M429.5 1801.5V1553.9M431.0 1801.5V1730.5M435.5 1801.5V1759.3M440.5 1801.5V1505.2M442.3 1801.5V1730.5M446.9 1801.5V1722.5M451.3 1801.5V1651.6M453.0 1801.5V1776.8M457.6 1801.5V1756.0M464.3 1801.5V1738.0M468.8 1801.5V1790.6M475.3 1801.5V1616.5M477.1 1801.5V1771.8M481.4 1801.5V1792.0M486.5 1801.5V1515.0M488.9 1801.5V1784.4M492.1 1801.5V1775.6M497.1 1801.5V1668.4M498.9 1801.5V1770.6M503.4 1801.5V1782.0M508.7 1801.5V1755.0M515.2 1801.5V1792.0M521.4 1801.5V1748.5M523.9 1801.5V1790.6M532.2 1801.5V1663.4M535.2 1801.5V1782.0M543.2 1801.5V1699.2M545.2 1801.5V1782.0M554.5 1801.5V1753.6M560.3 1801.5V1797.0M567.0 1801.5V1785.6M577.8 1801.5V1754.3M580.3 1801.5V1783.6M589.3 1801.5V1756.3M592.3 1801.5V1783.0M600.3 1801.5V1766.8M602.8 1801.5V1792.0M611.6 1801.5V1790.6M624.1 1801.5V1790.6M627.1 1801.5V1789.4M634.9 1801.5V1783.1M637.9 1801.5V1786.9M645.9 1801.5V1785.6M649.2 1801.5V1789.4M657.5 1801.5V1793.1M661.0 1801.5V1797.7M672.4 1801.5V1795.1M680.0 1801.5V1796.0M684.0 1801.5V1790.7M691.7 1801.5V1795.1M695.5 1801.5V1791.1M702.7 1801.5V1797.0M706.1 1801.5V1796.1M718.1 1801.5V1799.0M729.7 1801.5V1796.1M737.8 1801.5V1799.0M740.6 1801.5V1795.1M751.8 1801.5V1796.7M763.8 1801.5V1799.5" stroke="#1a1a1a" stroke-width="2.50" fill="none"/>
<text transform="translate(232.3 1666.2) rotate(-90) scale(1 1.040)" font-size="29.6">GALA<tspan font-size="20.0" dy="7.8">3</tspan></text>
<text transform="translate(290.7 1557.4) rotate(-90) scale(1 1.040)" font-size="29.6">GALA<tspan font-size="20.0" dy="7.8">4</tspan></text>
<text transform="translate(369.3 1415.8) rotate(-90) scale(1 1.040)" font-size="29.6">GA<tspan font-size="20.0" dy="7.8">2</tspan></text>
<text transform="translate(369.1 1344.0) rotate(-90) scale(1 1.040)" font-size="29.6">LA<tspan font-size="20.0" dy="7.8">4</tspan></text>
<text transform="translate(453.8 1490.7) rotate(-90) scale(1 1.040)" font-size="29.6">GA<tspan font-size="20.0" dy="7.8">2</tspan><tspan font-size="29.6" dy="-7.8">LA</tspan><tspan font-size="20.0" dy="7.8">6</tspan></text>
<line x1="328.1" y1="1378.2" x2="359.1" y2="1348.1" stroke="#919191" stroke-width="2.50"/>
<path d="M578.3 1624.8L690 1623.1L930 1623.3L985.6 1623.9" stroke="#1a1a1a" stroke-width="3" fill="none"/>
<line x1="582.8" y1="1624.0" x2="582.8" y2="1640.0" stroke="#1a1a1a" stroke-width="2.80"/>
<text x="582.8" y="1676.3" font-size="29.6" text-anchor="middle" >600</text>
<line x1="753.7" y1="1624.0" x2="753.7" y2="1640.0" stroke="#1a1a1a" stroke-width="2.80"/>
<text x="753.7" y="1676.3" font-size="29.6" text-anchor="middle" >700</text>
<line x1="924.6" y1="1624.0" x2="924.6" y2="1640.0" stroke="#1a1a1a" stroke-width="2.80"/>
<text x="924.6" y="1676.3" font-size="29.6" text-anchor="middle" >800</text>
<path d="M583.1 1616.8H918C922 1617 925 1618.6 928 1618.6S932 1617 936 1617H962C966 1617.5 968 1619 975 1619S982 1617 984.5 1614.5" stroke="#1a1a1a" stroke-width="2.4" fill="none"/>
<line x1="991.5" y1="1604.2" x2="991.5" y2="1614.7" stroke="#1a1a1a" stroke-width="2.40"/>
<path d="M985.2 1601.5C988.6 1603.5 988.6 1613 985.6 1617" stroke="#1a1a1a" stroke-width="3" fill="none"/>
<path d="M588.4 1616.8V1490.2M590.0 1616.8V1595.8M592.0 1616.8V1607.0M602.1 1616.8V1577.9M603.7 1616.8V1612.2M612.0 1616.8V1603.5M615.7 1616.8V1563.3M617.6 1616.8V1609.0M622.1 1616.8V1612.0M626.1 1616.8V1607.0M629.3 1616.8V1614.0M639.4 1616.8V1460.7M641.7 1616.8V1592.3M646.6 1616.8V1604.1M653.4 1616.8V1608.3M663.5 1616.8V1375.2M665.7 1616.8V1573.4M667.3 1616.8V1612.0M670.5 1616.8V1601.4M677.4 1616.8V1594.5M687.7 1616.8V1504.8M689.4 1616.8V1590.2M694.7 1616.8V1609.9M701.5 1616.8V1598.7M711.4 1616.8V1577.4M714.8 1616.8V1605.1M721.5 1616.8V1614.0M725.4 1616.8V1608.2M735.2 1616.8V1614.0M738.8 1616.8V1571.0M740.5 1616.8V1609.0M745.3 1616.8V1606.2M752.1 1616.8V1614.0M762.5 1616.8V1499.9M764.6 1616.8V1599.3M769.7 1616.8V1599.3M776.1 1616.8V1611.0M786.5 1616.8V1530.1M788.6 1616.8V1599.8M793.4 1616.8V1604.1M800.5 1616.8V1609.0M810.6 1616.8V1575.3M812.5 1616.8V1609.0M817.3 1616.8V1612.0M824.2 1616.8V1612.2M834.3 1616.8V1609.0M838.2 1616.8V1603.0M844.6 1616.8V1609.0M848.3 1616.8V1614.0M861.6 1616.8V1576.2M863.4 1616.8V1610.0M868.5 1616.8V1601.0M886.1 1616.8V1578.4M887.5 1616.8V1609.3M892.4 1616.8V1600.8M899.4 1616.8V1614.5M909.9 1616.8V1587.2M916.6 1616.8V1608.3M933.5 1616.8V1606.9M943.6 1616.8V1613.5M960.8 1616.8V1607.1M967.4 1616.8V1606.2" stroke="#1a1a1a" stroke-width="2.40" fill="none"/>
<text transform="translate(626.6 1495.4) rotate(-90) scale(1 1.040)" font-size="29.6">GA<tspan font-size="20.0" dy="7.8">2</tspan><tspan font-size="29.6" dy="-7.8">LA</tspan><tspan font-size="20.0" dy="7.8">6</tspan></text>
<text transform="translate(719.6 1495.4) rotate(-90) scale(1 1.040)" font-size="29.6">GA<tspan font-size="20.0" dy="7.8">3</tspan><tspan font-size="29.6" dy="-7.8">LA</tspan><tspan font-size="20.0" dy="7.8">6</tspan></text>
<text transform="translate(777.6 1491.1) rotate(-90) scale(1 1.040)" font-size="29.6">GA<tspan font-size="20.0" dy="7.8">4</tspan><tspan font-size="29.6" dy="-7.8">LA</tspan><tspan font-size="20.0" dy="7.8">6</tspan></text>
<text transform="translate(836.5 1505.0) rotate(-90) scale(1 1.040)" font-size="29.6">GA<tspan font-size="20.0" dy="7.8">3</tspan><tspan font-size="29.6" dy="-7.8">LA</tspan><tspan font-size="20.0" dy="7.8">7</tspan></text>
<line x1="614.9" y1="1505.2" x2="614.9" y2="1550.6" stroke="#919191" stroke-width="2.50"/>
<line x1="671.8" y1="1443.4" x2="699.5" y2="1443.4" stroke="#919191" stroke-width="2.50"/>
<line x1="785.7" y1="1523.5" x2="806.6" y2="1508.4" stroke="#919191" stroke-width="2.50"/>
</svg>
</body></html>
